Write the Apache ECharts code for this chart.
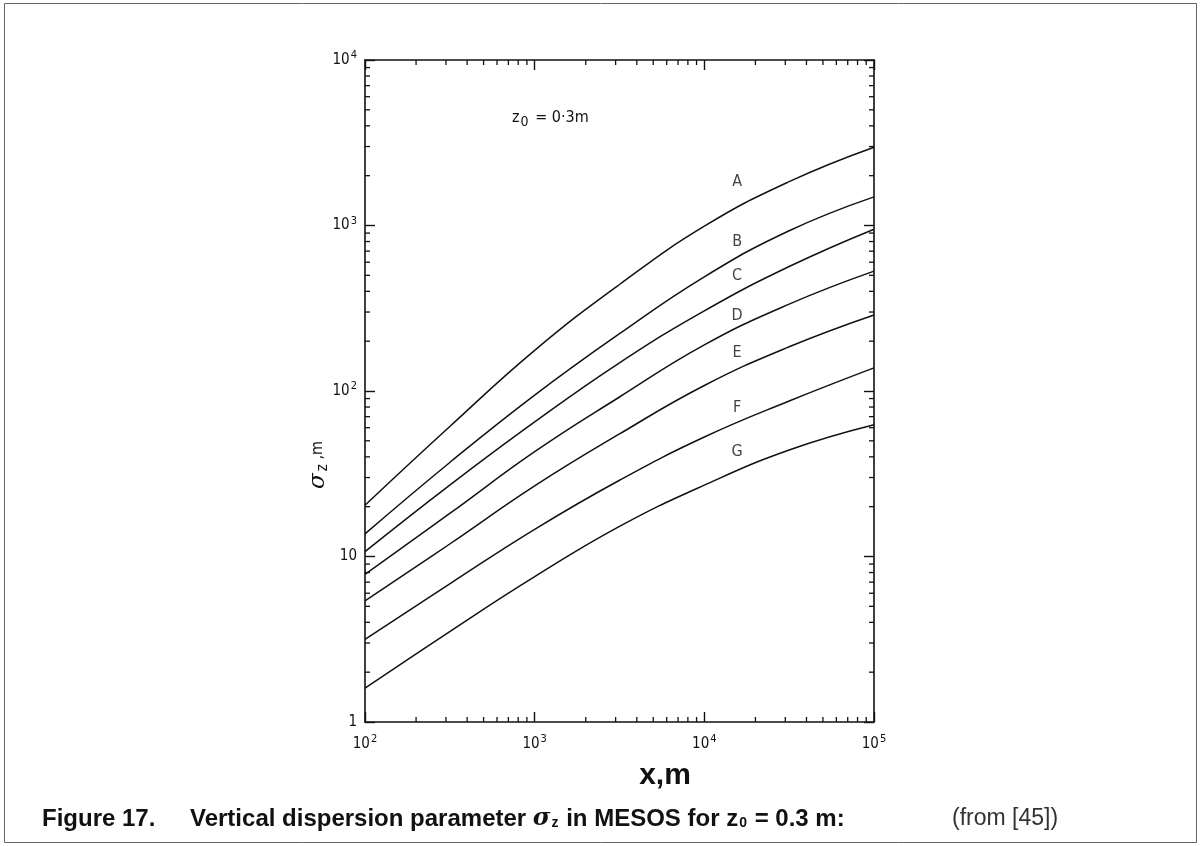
<!DOCTYPE html>
<html><head><meta charset="utf-8">
<script src="https://cdn.jsdelivr.net/npm/echarts@6/dist/echarts.min.js"></script>
<style>html,body{margin:0;padding:0;background:#fff}#c{width:1202px;height:846px}</style>
</head><body><div id="c"></div>
<script>
// ---- data ----
const distances = [100, 316, 1000, 3162, 10000, 31623, 100000];
const sigmaA = [20.4, 61, 176, 440, 990, 1840, 2970];
const sigmaB = [13.7, 37, 94.5, 222, 490, 930, 1490];
const sigmaC = [10.7, 27, 65, 148, 305, 565, 950];
const sigmaD = [7.8, 18.2, 43, 92, 190, 335, 530];
const sigmaE = [5.4, 11.9, 26.7, 55, 108, 185, 288];
const sigmaF = [3.16, 6.84, 14.6, 28.9, 52.7, 87, 138];
const sigmaG = [1.6, 3.52, 7.55, 15.2, 27, 44, 62.5];
const classNames = ['A', 'B', 'C', 'D', 'E', 'F', 'G'];
const classLabelX = [15600, 15600, 15600, 15600, 15600, 15600, 15600];
const classLabelY = [1830, 798, 493, 284, 171, 79.6, 42.6];
const minorMultipliers = [2, 3, 4, 5, 6, 7, 8, 9];

const allSigma = [sigmaA, sigmaB, sigmaC, sigmaD, sigmaE, sigmaF, sigmaG];
const X_MIN = 100, X_MAX = 100000, Y_MIN = 1, Y_MAX = 10000;
const FONT = "'DejaVu Sans Condensed','Liberation Sans Narrow','Roboto Condensed','DejaVu Sans',sans-serif";
const CAP_FONT = "'Liberation Sans',Arial,sans-serif";

function minorValues(lo, hi) {
  const out = [];
  for (let d = lo; d < hi; d *= 10) minorMultipliers.forEach(m => out.push(d * m));
  return out;
}
const xMinor = minorValues(X_MIN, X_MAX);
const yMinor = minorValues(Y_MIN, Y_MAX);

function powLabel(v) {
  const e = Math.round(Math.log10(v));
  if (e === 0) return '{b|1}';
  if (e === 1) return '{b|10}';
  return '{b|10}{s|' + e + '}';
}
const richLab = {
  b: { fontSize: 15, fontFamily: FONT, color: '#111' },
  s: { fontSize: 11, fontFamily: FONT, color: '#111', padding: [0, 0, 9, 1] }
};

const chart = echarts.init(document.getElementById('c'), null, { renderer: 'canvas' });

const lineSeries = allSigma.map((vals, i) => ({
  type: 'line',
  name: classNames[i],
  data: distances.map((d, j) => [d, vals[j]]),
  showSymbol: false,
  smooth: 0.45,
  lineStyle: { color: '#111', width: 1.5 },
  silent: true,
  z: 3
}));

const labelSeries = {
  type: 'scatter',
  data: classNames.map((n, i) => [classLabelX[i], classLabelY[i], n]),
  symbolSize: 0,
  label: {
    show: true, position: 'inside',
    formatter: p => p.value[2],
    fontFamily: FONT, fontSize: 16, color: '#111'
  },
  silent: true, z: 4
};

const tickLen = 5;
const xMinorSeries = {
  type: 'custom',
  data: xMinor.map(v => [v, Y_MIN]),
  clip: false, silent: true, z: 5,
  renderItem: (params, api) => {
    const cs = params.coordSys;
    const p = api.coord([api.value(0), Y_MIN]);
    const style = { stroke: '#111', lineWidth: 1.3 };
    return { type: 'group', children: [
      { type: 'line', shape: { x1: p[0], y1: cs.y + cs.height, x2: p[0], y2: cs.y + cs.height - tickLen }, style },
      { type: 'line', shape: { x1: p[0], y1: cs.y, x2: p[0], y2: cs.y + tickLen }, style }
    ]};
  }
};
const yMinorSeries = {
  type: 'custom',
  data: yMinor.map(v => [X_MIN, v]),
  clip: false, silent: true, z: 5,
  renderItem: (params, api) => {
    const cs = params.coordSys;
    const p = api.coord([X_MIN, api.value(1)]);
    const style = { stroke: '#111', lineWidth: 1.3 };
    return { type: 'group', children: [
      { type: 'line', shape: { x1: cs.x, y1: p[1], x2: cs.x + tickLen, y2: p[1] }, style },
      { type: 'line', shape: { x1: cs.x + cs.width, y1: p[1], x2: cs.x + cs.width - tickLen, y2: p[1] }, style }
    ]};
  }
};

const axisLineStyle = { color: '#111', width: 1.6 };
const majorTick = { show: true, inside: true, length: 10, lineStyle: { color: '#111', width: 1.4 } };

chart.setOption({
  animation: false,
  backgroundColor: '#fff',
  grid: { left: 365, top: 60, width: 509, height: 662, containLabel: false },
  xAxis: [
    {
      type: 'log', logBase: 10, min: X_MIN, max: X_MAX, position: 'bottom',
      axisLine: { show: true, lineStyle: axisLineStyle },
      axisTick: majorTick,
      splitLine: { show: false },
      axisLabel: { formatter: powLabel, rich: richLab, margin: 12 }
    },
    {
      type: 'log', logBase: 10, min: X_MIN, max: X_MAX, position: 'top',
      axisLine: { show: true, lineStyle: axisLineStyle },
      axisTick: majorTick, splitLine: { show: false }, axisLabel: { show: false }
    }
  ],
  yAxis: [
    {
      type: 'log', logBase: 10, min: Y_MIN, max: Y_MAX, position: 'left',
      axisLine: { show: true, lineStyle: axisLineStyle },
      axisTick: majorTick, splitLine: { show: false },
      axisLabel: { formatter: powLabel, rich: richLab, margin: 8 }
    },
    {
      type: 'log', logBase: 10, min: Y_MIN, max: Y_MAX, position: 'right',
      axisLine: { show: true, lineStyle: axisLineStyle },
      axisTick: majorTick, splitLine: { show: false }, axisLabel: { show: false }
    }
  ],
  series: [...lineSeries, labelSeries, xMinorSeries, yMinorSeries],
  graphic: [
    { type: 'rect', shape: { x: 4.5, y: 3.5, width: 1192, height: 839 }, style: { fill: 'none', stroke: '#666', lineWidth: 1 }, silent: true },
    {
      type: 'text', x: 512, y: 118,
      style: {
        text: '{a|z}{sub|0}{a| = 0·3m}',
        verticalAlign: 'middle',
        rich: {
          a: { fontSize: 16, fontFamily: FONT, fill: '#111' },
          sub: { fontSize: 14, fontFamily: FONT, fill: '#111', padding: [8, 2, 0, 1] }
        }
      }
    },
    {
      type: 'text', x: 318, y: 465, rotation: Math.PI / 2,
      style: {
        text: '{g|σ}{sub|z}{a| ,m}',
        align: 'center', verticalAlign: 'middle',
        rich: {
          g: { fontSize: 23, fontFamily: "'DejaVu Serif',serif", fontStyle: 'italic', fill: '#111' },
          sub: { fontSize: 15, fontFamily: FONT, fill: '#111', padding: [10, 0, 0, 2] },
          a: { fontSize: 16, fontFamily: FONT, fill: '#111' }
        }
      }
    },
    {
      type: 'text', x: 665, y: 776,
      style: { text: 'x,m', align: 'center', verticalAlign: 'middle', fontSize: 30, fontWeight: 'bold', fontFamily: CAP_FONT, fill: '#111' }
    },
    {
      type: 'text', x: 42, y: 819,
      style: { text: 'Figure 17.', verticalAlign: 'middle', fontSize: 24, fontWeight: 'bold', fontFamily: CAP_FONT, fill: '#111' }
    },
    {
      type: 'text', x: 190, y: 819,
      style: {
        text: '{t|Vertical dispersion parameter }{g|σ}{sub|z}{t| in MESOS for z}{sub|0}{t| = 0.3 m:}',
        verticalAlign: 'middle',
        rich: {
          t: { fontSize: 24, fontWeight: 'bold', fontFamily: CAP_FONT, fill: '#111' },
          g: { fontSize: 24, fontWeight: 'bold', fontStyle: 'italic', fontFamily: "'DejaVu Serif',serif", fill: '#111' },
          sub: { fontSize: 14, fontWeight: 'bold', fontFamily: CAP_FONT, fill: '#111', padding: [9, 1, 0, 1] }
        }
      }
    },
    {
      type: 'text', x: 952, y: 819,
      style: { text: '(from [45])', verticalAlign: 'middle', fontSize: 23, fontFamily: CAP_FONT, fill: '#333' }
    }
  ]
});
</script>
</body></html>
